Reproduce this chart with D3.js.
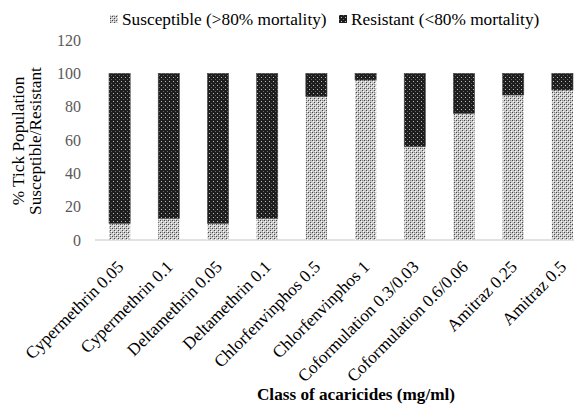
<!DOCTYPE html>
<html><head><meta charset="utf-8">
<script src="https://cdn.jsdelivr.net/npm/d3@7"></script>
<style>body{margin:0;background:#fff}svg{display:block}</style>
</head><body>
<script>
const categories = ["Cypermethrin 0.05","Cypermethrin 0.1","Deltamethrin 0.05","Deltamethrin 0.1","Chlorfenvinphos 0.5","Chlorfenvinphos 1","Coformulation 0.3/0.03","Coformulation 0.6/0.06","Amitraz 0.25","Amitraz 0.5"];
const susceptible = [10, 13, 10, 13, 86, 96, 56, 76, 87, 90];
const resistant = [90, 87, 90, 87, 14, 4, 44, 24, 13, 10];
const yTicks = [0, 20, 40, 60, 80, 100, 120];
const seriesNames = ["Susceptible (>80% mortality)", "Resistant (<80% mortality)"];

const W = 574, H = 407;
const FONT = "'Liberation Serif', 'Times New Roman', serif";
const svg = d3.select("body").append("svg").attr("width", W).attr("height", H);
const defs = svg.append("defs");

// Susceptible pattern: light grey checkered dots
const p1 = defs.append("pattern").attr("id","pS").attr("patternUnits","userSpaceOnUse").attr("width",4).attr("height",4);
p1.append("rect").attr("width",4).attr("height",4).attr("fill","#c9c9c9");
p1.append("rect").attr("x",0).attr("y",0).attr("width",1).attr("height",1).attr("fill","#444");
p1.append("rect").attr("x",2).attr("y",2).attr("width",1).attr("height",1).attr("fill","#444");
p1.append("rect").attr("x",1).attr("y",1).attr("width",1).attr("height",1).attr("fill","#fff");
p1.append("rect").attr("x",3).attr("y",3).attr("width",1).attr("height",1).attr("fill","#fff");
p1.append("rect").attr("x",2).attr("y",0).attr("width",1).attr("height",1).attr("fill","#888");

// Resistant pattern: dark with light dots
const p2 = defs.append("pattern").attr("id","pR").attr("patternUnits","userSpaceOnUse").attr("width",4).attr("height",4);
p2.append("rect").attr("width",4).attr("height",4).attr("fill","#1e1e1e");
p2.append("rect").attr("x",1).attr("y",1).attr("width",1).attr("height",1).attr("fill","#bbb");
p2.append("rect").attr("x",3).attr("y",3).attr("width",1).attr("height",1).attr("fill","#666");

const x = d3.scaleBand().domain(categories).range([95, 587]).paddingInner(0.57).paddingOuter(0.285);
const y = d3.scaleLinear().domain([0, 120]).range([240, 40]);

// axis line
svg.append("line").attr("x1",95).attr("x2",W).attr("y1",y(0)).attr("y2",y(0)).attr("stroke","#d9d9d9").attr("stroke-width",1.5);

// y tick labels
svg.append("g").selectAll("text").data(yTicks).join("text")
  .attr("x",81).attr("y",d=>y(d)).attr("dy","0.35em").attr("text-anchor","end")
  .attr("font-family",FONT).attr("font-size",16).attr("fill","#595959")
  .text(d=>d);

// bars
const g = svg.append("g");
g.selectAll("rect.s").data(categories).join("rect").attr("class","s")
  .attr("x",d=>x(d)).attr("width",x.bandwidth())
  .attr("y",(d,i)=>y(susceptible[i])).attr("height",(d,i)=>y(0)-y(susceptible[i]))
  .attr("fill","url(#pS)");
g.selectAll("rect.r").data(categories).join("rect").attr("class","r")
  .attr("x",d=>x(d)).attr("width",x.bandwidth())
  .attr("y",(d,i)=>y(susceptible[i]+resistant[i])).attr("height",(d,i)=>y(susceptible[i])-y(susceptible[i]+resistant[i]))
  .attr("fill","url(#pR)").attr("stroke","#444").attr("stroke-width",0.6);

// x labels
svg.append("g").selectAll("text").data(categories).join("text")
  .attr("transform",d=>`translate(${x(d)+x.bandwidth()/2+5},${y(0)+28}) rotate(-45)`)
  .attr("text-anchor","end")
  .attr("font-family",FONT).attr("font-size",17.3).attr("fill","#000")
  .text(d=>d);

// y title
const yt = svg.append("text").attr("transform","translate(0,141) rotate(-90)")
  .attr("text-anchor","middle").attr("font-family",FONT).attr("font-size",17.3).attr("fill","#000");
yt.append("tspan").attr("x",0).attr("y",24).text("% Tick Population");
yt.append("tspan").attr("x",0).attr("y",41).text("Susceptible/Resistant");

// x title
svg.append("text").attr("x",356).attr("y",400).attr("text-anchor","middle")
  .attr("font-family",FONT).attr("font-size",17.2).attr("font-weight","bold")
  .text("Class of acaricides (mg/ml)");

// legend
const leg = svg.append("g");
const legX = [110, 339];
const legFill = ["url(#pS)","url(#pR)"];
seriesNames.forEach((n,i)=>{
  leg.append("rect").attr("x",legX[i]).attr("y",15).attr("width",8).attr("height",8).attr("fill",legFill[i]);
  leg.append("text").attr("x",legX[i]+12).attr("y",25)
    .attr("font-family",FONT).attr("font-size",17.3).attr("fill","#000").text(n);
});
</script>
</body></html>
